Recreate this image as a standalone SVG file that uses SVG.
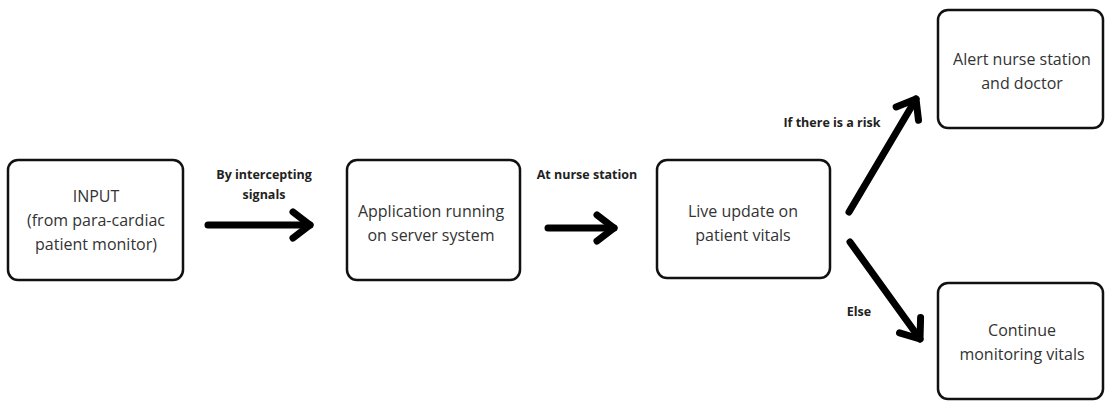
<svg xmlns="http://www.w3.org/2000/svg" width="1105" height="401" viewBox="0 0 1105 401">
<style>
.box{fill:#fff;stroke:#111;stroke-width:2.5}
.t{font-family:"Open Sans","Noto Sans",sans-serif;font-size:16px;fill:#333;text-anchor:middle}
.l{font-family:"Open Sans","Noto Sans",sans-serif;font-size:12.5px;font-weight:bold;fill:#222;text-anchor:middle}
.c{fill:none;stroke:#000;stroke-width:7;stroke-linecap:round;stroke-linejoin:round}
</style>
<defs>
<marker id="ah" markerUnits="userSpaceOnUse" markerWidth="40" markerHeight="40" viewBox="-25 -20 30 40" refX="0" refY="0" orient="auto" overflow="visible">
<path d="M-17,-13 L0,0 L-17,13" fill="none" stroke="#000" stroke-width="7" stroke-linecap="round" stroke-linejoin="round"/>
</marker>
</defs>
<rect width="1105" height="401" fill="#fff"/>
<g id="n1"><rect class="box" x="8" y="160" width="175" height="120" rx="10"/>
<text class="t" x="96" y="202">INPUT</text>
<text class="t" x="96" y="226">(from para-cardiac</text>
<text class="t" x="96" y="250">patient monitor)</text></g>
<g id="n2"><rect class="box" x="347" y="160" width="173" height="120" rx="10"/>
<text class="t" x="431" y="217">Application running</text>
<text class="t" x="431" y="241">on server system</text></g>
<g id="n3"><rect class="box" x="657" y="160" width="173" height="118" rx="10"/>
<text class="t" x="743" y="217">Live update on</text>
<text class="t" x="743" y="241">patient vitals</text></g>
<g id="n4"><rect class="box" x="938" y="10" width="165" height="118" rx="10"/>
<text class="t" x="1022" y="65">Alert nurse station</text>
<text class="t" x="1022" y="89">and doctor</text></g>
<g id="n5"><rect class="box" x="938" y="283" width="165" height="116" rx="10"/>
<text class="t" x="1022" y="336">Continue</text>
<text class="t" x="1022" y="360">monitoring vitals</text></g>
<g id="connectors">
<path class="c" d="M208,225 L310,225" marker-end="url(#ah)"/>
<path class="c" d="M548,228 L614,228" marker-end="url(#ah)"/>
<path class="c" d="M849,212 L916,99" marker-end="url(#ah)"/>
<path class="c" d="M850,242 L920,339" marker-end="url(#ah)"/>
<text class="l" x="264" y="179">By intercepting</text>
<text class="l" x="264" y="199">signals</text>
<text class="l" x="587" y="179">At nurse station</text>
<text class="l" x="832" y="127">If there is a risk</text>
<text class="l" x="859" y="316">Else</text>
</g>
</svg>
